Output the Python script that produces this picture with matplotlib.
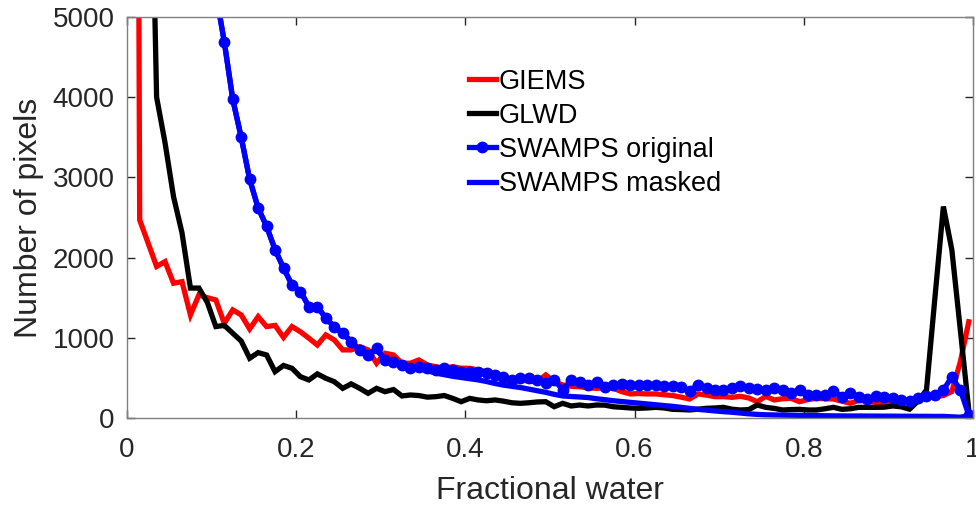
import matplotlib
matplotlib.use("Agg")
import matplotlib.pyplot as plt
import numpy as np

plt.rcParams['font.family'] = ['Liberation Sans', 'DejaVu Sans']

# bin centres of fractional water (0.005 ... 0.995)
frac = np.arange(100) * 0.01 + 0.005

giems = [30000, 2470, 2180, 1890, 1950, 1680, 1700, 1285, 1535, 1500,
         1472, 1180, 1348, 1285, 1110, 1264, 1140, 1155, 1005, 1140,
         1075, 995, 910, 1036, 973, 849, 849, 890, 849, 683,
         807, 786, 683, 683, 724, 661, 640, 620, 640, 620,
         620, 599, 578, 560, 460, 480, 474, 460, 453, 537,
         450, 412, 395, 390, 375, 370, 375, 370, 328, 300,
         305, 300, 300, 290, 280, 260, 237, 300, 285, 266,
         266, 258, 270, 250, 203, 270, 225, 240, 245, 203,
         230, 245, 240, 237, 210, 183, 220, 210, 195, 190,
         183, 200, 225, 240, 250, 265, 280, 330, 700, 1200]

glwd = [40000, 20000, 9000, 4000, 3430, 2760, 2310, 1620, 1620, 1440,
        1140, 1155, 1057, 960, 745, 815, 786, 578, 655, 620,
        515, 474, 550, 495, 453, 370, 425, 370, 308, 370,
        328, 355, 275, 287, 280, 260, 266, 280, 245, 203,
        245, 225, 215, 225, 210, 190, 183, 190, 200, 203,
        141, 183, 150, 162, 150, 162, 160, 140, 133, 125,
        121, 125, 133, 125, 108, 105, 100, 110, 121, 125,
        133, 110, 100, 105, 162, 133, 120, 100, 105, 108,
        100, 100, 115, 133, 108, 115, 133, 133, 133, 135,
        150, 140, 110, 210, 349, 1500, 2637, 2097, 1100, 100]

swamps_orig = [36000, 25000, 19000, 15000, 12500, 10500, 9000, 7800, 6800, 6000,
               5300, 4690, 3975, 3500, 2975, 2620, 2390, 2100, 1870, 1660,
               1577, 1390, 1390, 1244, 1140, 1057, 952, 849, 786, 870,
               724, 703, 661, 620, 640, 620, 599, 620, 599, 578,
               578, 578, 565, 537, 515, 474, 495, 495, 474, 433,
               474, 349, 474, 453, 412, 453, 391, 412, 420, 410,
               410, 410, 410, 405, 400, 390, 341, 412, 370, 350,
               355, 370, 400, 370, 360, 345, 378, 350, 316, 349,
               287, 287, 287, 337, 266, 316, 266, 233, 270, 258,
               250, 225, 215, 245, 275, 287, 349, 515, 349, 37]

swamps_masked = [36000, 25000, 19000, 15000, 12500, 10500, 9000, 7800, 6800, 6000,
                 5300, 4690, 3975, 3500, 2975, 2620, 2390, 2100, 1870, 1660,
                 1577, 1390, 1390, 1244, 1140, 1057, 952, 849, 786, 850,
                 724, 703, 661, 620, 615, 590, 560, 540, 520, 505,
                 490, 475, 455, 430, 410, 395, 380, 360, 340, 320,
                 295, 275, 268, 262, 255, 240, 228, 215, 205, 195,
                 185, 175, 165, 155, 145, 133, 120, 108, 98, 88,
                 79, 72, 62, 52, 45, 40, 38, 36, 34, 33,
                 32, 30, 28, 27, 26, 25, 25, 24, 24, 23,
                 23, 22, 22, 21, 21, 20, 20, 15, 10, 30]

xticks = [0, 0.2, 0.4, 0.6, 0.8, 1]
xticklabels = ['0', '0.2', '0.4', '0.6', '0.8', '1']
yticks = [0, 1000, 2000, 3000, 4000, 5000]

fig = plt.figure(figsize=(9.76, 5.08), dpi=100)
ax = fig.add_axes([127/976, 1 - 418/508, 846/976, 401/508])

lw = 3.8
ax.plot(frac, giems, color='#ff0000', lw=lw, label='GIEMS', solid_joinstyle='miter')
ax.plot(frac, glwd, color='#000000', lw=lw, label='GLWD', solid_joinstyle='miter')
ax.plot(frac, swamps_orig, color='#0000ff', lw=lw, marker='o', ms=7.5,
        label='SWAMPS original', solid_joinstyle='miter')
ax.plot(frac, swamps_masked, color='#0000ff', lw=lw, label='SWAMPS masked',
        solid_joinstyle='miter')

ax.set_xlim(0, 1)
ax.set_ylim(0, 5000)
ax.set_xticks(xticks)
ax.set_xticklabels(xticklabels)
ax.set_yticks(yticks)

axcol = '#262626'
for s in ax.spines.values():
    s.set_color('#808080')
    s.set_linewidth(1.0)
ax.tick_params(direction='in', length=6, width=1.0, color=axcol,
               labelsize=20, labelcolor=axcol, top=True, right=True)
ax.tick_params(axis='x', pad=14)
ax.tick_params(axis='y', pad=9)

ax.set_xlabel('Fractional water', fontsize=23, color=axcol, labelpad=9)
ax.set_ylabel('Number of pixels', fontsize=23, color=axcol, labelpad=6)

leg = ax.legend(loc='upper left', bbox_to_anchor=(0.388, 0.905), frameon=False,
                fontsize=19.5, handlelength=1.0, handletextpad=0.1,
                labelspacing=0.3, borderpad=0)
for t in leg.get_texts():
    t.set_color('black')

fig.savefig('out.png', dpi=100)
